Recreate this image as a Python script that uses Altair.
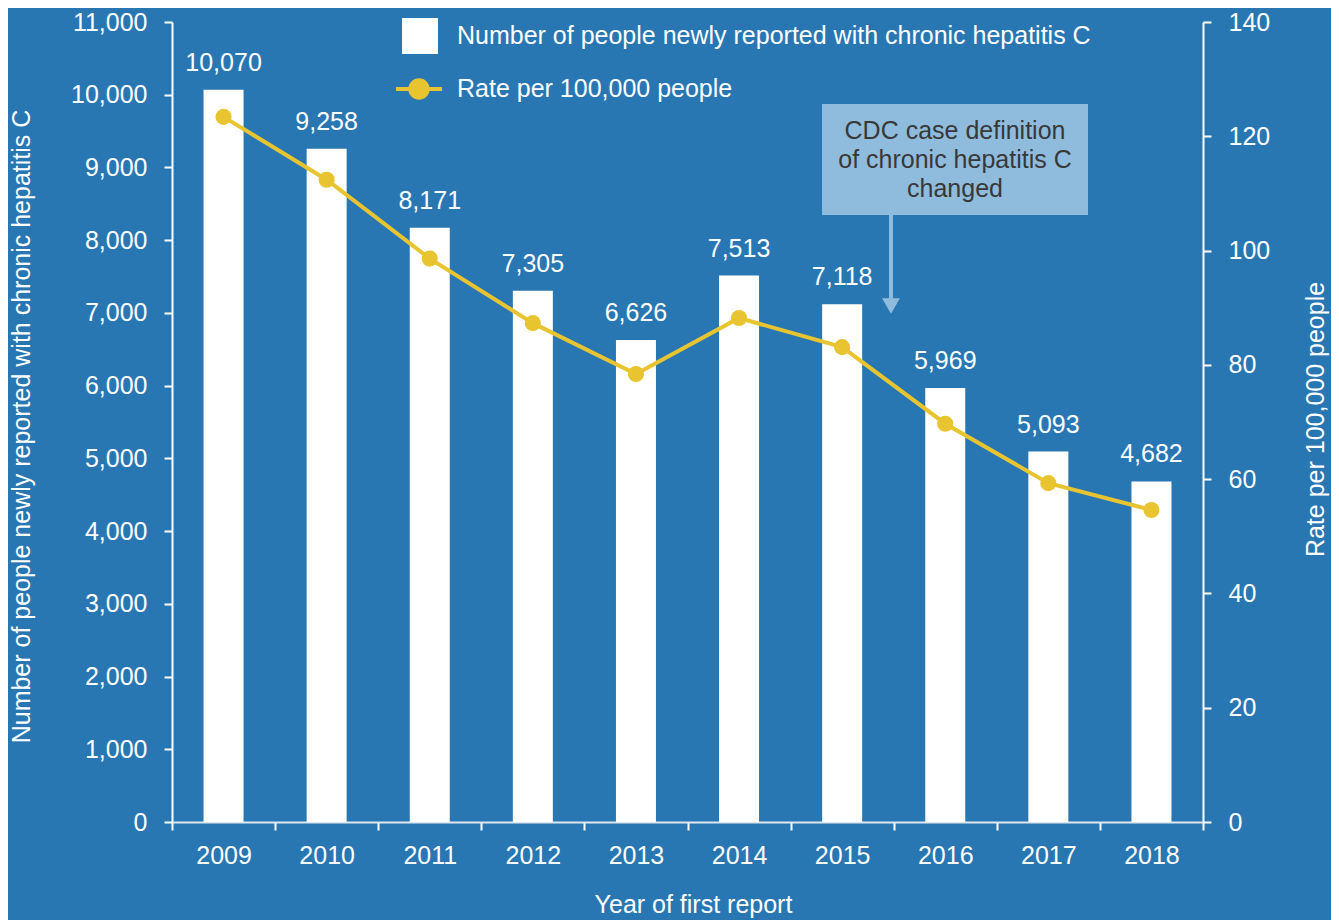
import altair as alt
import pandas as pd

years = ["2009", "2010", "2011", "2012", "2013", "2014", "2015", "2016", "2017", "2018"]
counts = [10070, 9258, 8171, 7305, 6626, 7513, 7118, 5969, 5093, 4682]
rates = [123.4, 112.4, 98.6, 87.3, 78.4, 88.2, 83.1, 69.7, 59.3, 54.6]
count_ticks = list(range(0, 11001, 1000))
rate_ticks = list(range(0, 141, 20))
bar_series = "Number of people newly reported with chronic hepatitis C"
line_series = "Rate per 100,000 people"
note_lines = ["CDC case definition", "of chronic hepatitis C", "changed"]

BG = "#2877b3"
YELLOW = "#e8c530"
NOTE = "#8fbcdc"
FONT = "Liberation Sans"
FS = 25

df = pd.DataFrame({
    "year": years,
    "count": counts,
    "rate": rates,
    "bar_s": [bar_series] * len(years),
    "line_s": [line_series] * len(years),
})

x_enc = alt.X(
    "year:O",
    scale=alt.Scale(paddingInner=0, paddingOuter=0),
    axis=alt.Axis(
        title="Year of first report",
        labelAngle=0,
        tickBand="extent",
        labelPadding=13,
        domainColor="#dfe7ee",
        titleX=521,
        titleY=82,
        titleBaseline="middle",
        titleAlign="center",
    ),
)

y_count = alt.Y(
    "count:Q",
    scale=alt.Scale(domain=[0, 11000], nice=False),
    axis=alt.Axis(
        title="Number of people newly reported with chronic hepatitis C",
        values=count_ticks,
        format=",.0f",
        labelPadding=17,
        titleAngle=-90,
        titleX=-151,
        titleY=404,
        titleBaseline="middle",
        titleAlign="center",
    ),
)

y_rate = alt.Y(
    "rate:Q",
    scale=alt.Scale(domain=[0, 140], nice=False),
    axis=alt.Axis(
        title="Rate per 100,000 people",
        orient="right",
        values=rate_ticks,
        format=".0f",
        labelPadding=17,
        titleAngle=-90,
        titleX=112,
        titleY=397,
        titleBaseline="middle",
        titleAlign="center",
    ),
)

base = alt.Chart(df)

bars = base.mark_bar(size=40).encode(
    x=x_enc,
    y=y_count,
    fill=alt.Fill(
        "bar_s:N",
        scale=alt.Scale(range=["white"]),
        legend=alt.Legend(
            title=None,
            orient="none",
            legendX=230,
            legendY=-4,
            symbolType="square",
            symbolSize=1296,
            symbolStrokeWidth=0,
            symbolFillColor="white",
            labelOffset=19,
            labelLimit=0,
            padding=0,
        ),
    ),
)

bar_text = base.mark_text(
    color="white", fontSize=FS, font=FONT, baseline="alphabetic", dy=-19
).encode(x=x_enc, y=y_count, text=alt.Text("count:Q", format=",.0f"))

left = alt.layer(bars, bar_text)

legend_path = "M-1,0L1,0M-0.38,0A0.38,0.38,0,1,1,0.38,0A0.38,0.38,0,1,1,-0.38,0Z"

line = base.mark_line(strokeWidth=4).encode(
    x=x_enc,
    y=y_rate,
    stroke=alt.Stroke(
        "line_s:N",
        scale=alt.Scale(range=[YELLOW]),
        legend=alt.Legend(
            title=None,
            orient="none",
            legendX=222,
            legendY=42,
            symbolType=legend_path,
            symbolSize=2116,
            symbolStrokeWidth=4,
            symbolFillColor=YELLOW,
            labelOffset=13,
            labelLimit=0,
            padding=0,
        ),
    ),
)

points = base.mark_point(filled=True, size=260, opacity=1, color=YELLOW).encode(
    x=x_enc, y=y_rate
)

right = alt.layer(line, points)

note_df = pd.DataFrame({"a": [0]})
note_box = alt.Chart(note_df).mark_rect(color=NOTE).encode(
    x=alt.value(650), x2=alt.value(916), y=alt.value(82), y2=alt.value(193)
)
note_text = alt.Chart(note_df).mark_text(
    text=note_lines, color="#383838", fontSize=FS, font=FONT,
    align="center", baseline="middle", lineHeight=29,
).encode(x=alt.value(783), y=alt.value(109))
arrow_line = alt.Chart(note_df).mark_rule(color=NOTE, strokeWidth=4).encode(
    x=alt.value(719), y=alt.value(193), y2=alt.value(282)
)
arrow_head = alt.Chart(note_df).mark_point(
    shape="triangle-down", filled=True, size=320, color=NOTE, opacity=1
).encode(x=alt.value(719), y=alt.value(284))

chart = (
    alt.layer(left, right, note_box, note_text, arrow_line, arrow_head)
    .resolve_scale(y="independent")
    .properties(
        width=1031,
        height=800,
        background=BG,
        autosize=alt.AutoSizeParams(type="none"),
        padding={"left": 164, "top": 14, "right": 128, "bottom": 98},
    )
    .configure_view(stroke=None)
    .configure_axis(
        domainColor="white",
        domainWidth=2,
        tickColor="white",
        tickWidth=2,
        tickSize=8,
        labelColor="white",
        labelFontSize=FS,
        labelFont=FONT,
        titleColor="white",
        titleFontSize=FS,
        titleFont=FONT,
        titleFontWeight="normal",
        grid=False,
    )
    .configure_legend(labelColor="white", labelFontSize=FS, labelFont=FONT)
)

chart.save("out.html", embed_options={"renderer": "svg", "actions": False})
